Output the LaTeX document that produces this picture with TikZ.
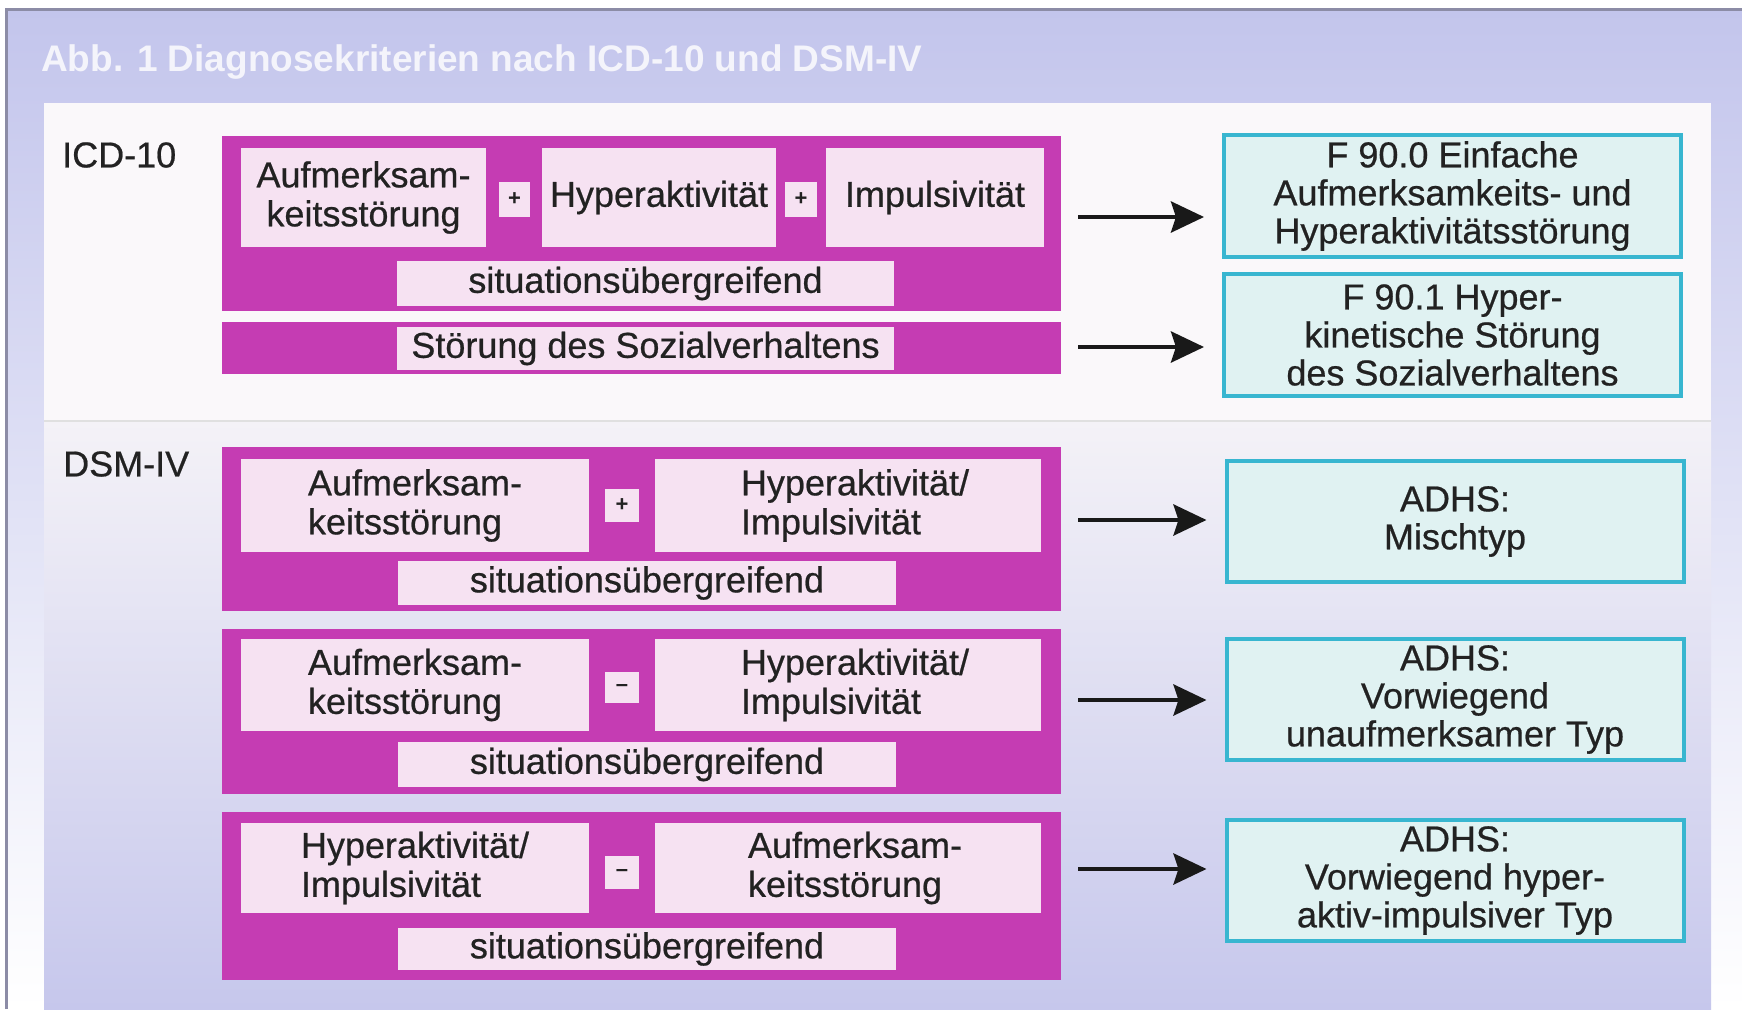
\documentclass[tikz,border=0pt]{standalone}
\usepackage{fontspec}
\setmainfont{Liberation Sans}
\newfontfamily\bodyfont{Liberation Sans}[FakeBold=0.6]
\usetikzlibrary{arrows.meta}
\definecolor{mag}{HTML}{C53CB3}
\definecolor{pinkbox}{HTML}{F6E2F2}
\definecolor{cyanb}{HTML}{38B6D0}
\definecolor{cyanf}{HTML}{E0F2F2}
\definecolor{lav}{HTML}{C3C5EC}
\definecolor{txt}{HTML}{222222}
\definecolor{icdbg}{HTML}{FAF8FA}
\definecolor{dsmtop}{HTML}{F4F2F7}
\definecolor{dsmbot}{HTML}{C6C7EC}
\definecolor{frameline}{HTML}{8C8CA6}
\definecolor{titlecol}{HTML}{F4F4FB}
\begin{document}
\begin{tikzpicture}[x=1pt,y=-1pt,
  magblock/.style={fill=mag, draw=none, inner sep=0pt},
  inbox/.style={fill=pinkbox, draw=none, inner sep=0pt, text=txt,
    font=\bodyfont\fontsize{36}{39}\selectfont, align=center},
  inboxl/.style={inbox, align=left},
  opbox/.style={fill=pinkbox, draw=none, inner sep=0pt, text=txt,
    font=\bfseries\fontsize{22}{22}\selectfont},
  resbox/.style={fill=cyanf, draw=cyanb, line width=4pt, inner sep=0pt,
    text=txt, font=\bodyfont\fontsize{36}{38}\selectfont, align=center,
    minimum width=457pt},
  lbl/.style={anchor=west, inner sep=0pt, text=txt, font=\bodyfont\fontsize{36}{38}\selectfont},
  arr/.style={line width=4.5pt, -{Stealth[length=33pt,width=31pt,inset=5pt]},
    shorten <=17pt, shorten >=18pt, color=black!90}
]
\useasboundingbox (0,0) rectangle (1742,1009);
% outer frame
\fill[white] (0,0) rectangle (1742,1009);
\shade[top color=lav, bottom color=white] (6,9) rectangle (1742,1009);
\draw[frameline, line width=3pt] (6,1009) -- (6,9) -- (1742,9);
% title
\node[anchor=base west, inner sep=0pt, text=titlecol,
  font=\bfseries\fontsize{37}{40}\selectfont] (title) at (41,71)
  {Abb. 1 Diagnosekriterien nach ICD-10 und DSM-IV};
% panel
\fill[icdbg] (44,103) rectangle (1711,421);
\shade[top color=dsmtop, bottom color=dsmbot] (44,421) rectangle (1711,1009);
\draw[black!12, line width=1.5pt] (44,421) -- (1711,421);

% labels
\node[lbl] (icdlbl) at (62,155) {ICD-10};
\node[lbl] (dsmlbl) at (63,464) {DSM-IV};

% ICD-10 block A
\node[magblock, minimum width=839pt, minimum height=175pt] (blkA) at (641.5,223.5) {};
\node[inbox, minimum width=245pt, minimum height=99pt] (a1) at (363.5,197.5) {Aufmerksam-\\keitsstörung};
\node[opbox, minimum width=31pt, minimum height=35pt] (p1) at (514.5,199.5) {+};
\node[inbox, minimum width=234pt, minimum height=99pt] (h1) at (659,197.5) {Hyperaktivität};
\node[opbox, minimum width=32pt, minimum height=35pt] (p2) at (801,199.5) {+};
\node[inbox, minimum width=218pt, minimum height=99pt] (i1) at (935,197.5) {Impulsivität};
\node[inbox, minimum width=497pt, minimum height=45pt] (s1) at (645.5,283.5) {situationsübergreifend};
% ICD-10 block B
\node[magblock, minimum width=839pt, minimum height=52pt] (blkB) at (641.5,348) {};
\node[inbox, minimum width=497pt, minimum height=43pt] (s2) at (645.5,348.5) {Störung des Sozialverhaltens};

% DSM block 1
\node[magblock, minimum width=839pt, minimum height=164pt] (D1) at (641.5,529) {};
\node[inboxl, minimum width=348pt, minimum height=93pt] (d1l) at (415,505.5) {Aufmerksam-\\keitsstörung};
\node[opbox, minimum width=34pt, minimum height=33pt] (d1p) at (622,505.5) {+};
\node[inboxl, minimum width=386pt, minimum height=93pt] (d1r) at (848,505.5) {\hspace*{14pt}Hyperaktivität/\\\hspace*{14pt}Impulsivität};
\node[inbox, minimum width=498pt, minimum height=44pt] (d1s) at (647,583) {situationsübergreifend};
% DSM block 2
\node[magblock, minimum width=839pt, minimum height=165pt] (D2) at (641.5,711.5) {};
\node[inboxl, minimum width=348pt, minimum height=92pt] (d2l) at (415,685) {Aufmerksam-\\keitsstörung};
\node[opbox, minimum width=34pt, minimum height=31pt] (d2m) at (622,687.5) {–};
\node[inboxl, minimum width=386pt, minimum height=92pt] (d2r) at (848,685) {\hspace*{14pt}Hyperaktivität/\\\hspace*{14pt}Impulsivität};
\node[inbox, minimum width=498pt, minimum height=45pt] (d2s) at (647,764.5) {situationsübergreifend};
% DSM block 3
\node[magblock, minimum width=839pt, minimum height=168pt] (D3) at (641.5,896) {};
\node[inboxl, minimum width=348pt, minimum height=90pt] (d3l) at (415,868) {Hyperaktivität/\\Impulsivität};
\node[opbox, minimum width=34pt, minimum height=33pt] (d3m) at (622,872.5) {–};
\node[inboxl, minimum width=386pt, minimum height=90pt] (d3r) at (848,868) {\hspace*{14pt}Aufmerksam-\\\hspace*{14pt}keitsstörung};
\node[inbox, minimum width=498pt, minimum height=42pt] (d3s) at (647,949) {situationsübergreifend};

% result boxes
\node[resbox, minimum height=122pt] (R1) at (1452.5,196) {F 90.0 Einfache\\Aufmerksamkeits- und\\Hyperaktivitätsstörung};
\node[resbox, minimum height=122pt] (R2) at (1452.5,335) {F 90.1 Hyper-\\kinetische Störung\\des Sozialverhaltens};
\node[resbox, minimum height=121pt] (R3) at (1455,521.5) {ADHS:\\Mischtyp};
\node[resbox, minimum height=121pt] (R4) at (1455,699.5) {ADHS:\\Vorwiegend\\unaufmerksamer Typ};
\node[resbox, minimum height=121pt] (R5) at (1455,880.5) {ADHS:\\Vorwiegend hyper-\\aktiv-impulsiver Typ};

% arrows
\coordinate (y1) at (0,217);
\coordinate (y2) at (0,347);
\coordinate (y3) at (0,520);
\coordinate (y4) at (0,700);
\coordinate (y5) at (0,869);
\draw[arr] (blkA.east |- y1) -- (R1.west |- y1);
\draw[arr] (blkB.east |- y2) -- (R2.west |- y2);
\draw[arr] (D1.east |- y3) -- (R3.west |- y3);
\draw[arr] (D2.east |- y4) -- (R4.west |- y4);
\draw[arr] (D3.east |- y5) -- (R5.west |- y5);
\end{tikzpicture}
\end{document}
